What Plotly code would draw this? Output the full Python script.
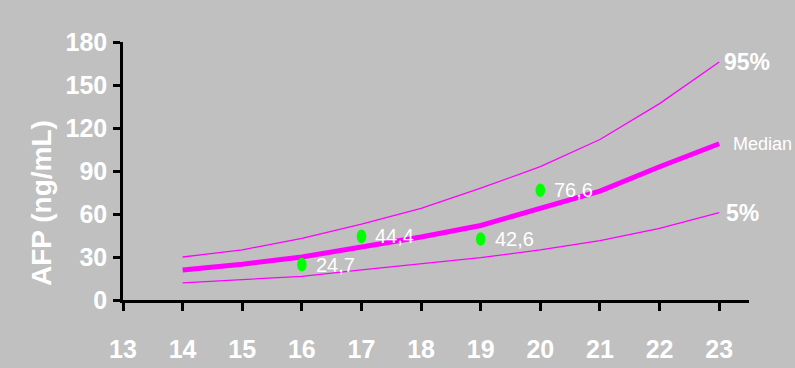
import plotly.graph_objects as go

# Gestational week and AFP reference percentiles (ng/mL)
weeks = [14, 15, 16, 17, 18, 19, 20, 21, 22, 23]
p95 = [30, 35, 43, 53, 64, 78, 93, 112, 137, 166]
median = [21, 25, 30, 37, 44, 52, 64, 76, 93, 109]
p5 = [12, 14, 16.5, 21, 25, 29.5, 35, 41.5, 50, 61]

# Individual measurements
obs_weeks = [16, 17, 19, 20]
obs_values = [24.7, 44.4, 42.6, 76.6]
obs_labels = ["24,7", "44,4", "42,6", "76,6"]

x_ticks = list(range(13, 24))
y_ticks = [0, 30, 60, 90, 120, 150, 180]

FONT = "Liberation Sans, Arial, sans-serif"
BG = "#c0c0c0"
MAGENTA = "#ff00ff"

fig = go.Figure()
fig.add_trace(go.Scatter(x=weeks, y=p95, mode="lines",
                         line=dict(color=MAGENTA, width=1.3), hoverinfo="skip"))
fig.add_trace(go.Scatter(x=weeks, y=median, mode="lines",
                         line=dict(color=MAGENTA, width=5), hoverinfo="skip"))
fig.add_trace(go.Scatter(x=weeks, y=p5, mode="lines",
                         line=dict(color=MAGENTA, width=1.3), hoverinfo="skip"))

# Oval green markers anchored at each measurement
for wk, val, lab in zip(obs_weeks, obs_values, obs_labels):
    fig.add_shape(type="circle", xref="x", yref="y",
                  xsizemode="pixel", ysizemode="pixel",
                  xanchor=wk, yanchor=val,
                  x0=-4.8, x1=4.8, y0=-6.8, y1=6.8,
                  fillcolor="#00ff00", line=dict(width=0))
    fig.add_annotation(x=wk, y=val, text=lab, showarrow=False,
                       xanchor="left", yanchor="middle", xshift=12,
                       font=dict(family=FONT, size=20, color="white"))

# Curve labels at the right end
fig.add_annotation(x=weeks[-1], y=p95[-1], text="<b>95%</b>", showarrow=False,
                   xanchor="left", yanchor="middle", xshift=3,
                   font=dict(family=FONT, size=23, color="white"))
fig.add_annotation(x=weeks[-1], y=median[-1], text="Median", showarrow=False,
                   xanchor="left", yanchor="middle", xshift=12,
                   font=dict(family=FONT, size=18, color="white"))
fig.add_annotation(x=weeks[-1], y=p5[-1], text="<b>5%</b>", showarrow=False,
                   xanchor="left", yanchor="middle", xshift=5,
                   font=dict(family=FONT, size=23, color="white"))

# Y-axis title
fig.add_annotation(xref="paper", yref="paper", x=0, y=0.376, xshift=-81,
                   text="<b>AFP (ng/mL)</b>", textangle=-90, showarrow=False,
                   xanchor="center", yanchor="middle",
                   font=dict(family=FONT, size=28, color="white"))

fig.update_layout(
    width=795, height=368,
    margin=dict(l=123, r=46, t=42, b=68),
    paper_bgcolor=BG, plot_bgcolor=BG,
    showlegend=False,
    xaxis=dict(range=[13, 23.5], tickvals=x_ticks, ticktext=[str(v) for v in x_ticks],
               showgrid=False, zeroline=False, showline=True, automargin=False,
               linecolor="black", linewidth=2.5,
               ticks="outside", ticklen=8, tickwidth=2.5, tickcolor="black",
               ticklabelstandoff=17,
               tickfont=dict(family=FONT, size=25, color="white", weight="bold")),
    yaxis=dict(range=[0, 180], tickvals=y_ticks,
               showgrid=False, zeroline=False, showline=True, automargin=False,
               linecolor="black", linewidth=2.5,
               ticks="outside", ticklen=7, tickwidth=2.5, tickcolor="black",
               ticklabelstandoff=1,
               tickfont=dict(family=FONT, size=25, color="white", weight="bold")),
)

fig.write_html("out.html")
